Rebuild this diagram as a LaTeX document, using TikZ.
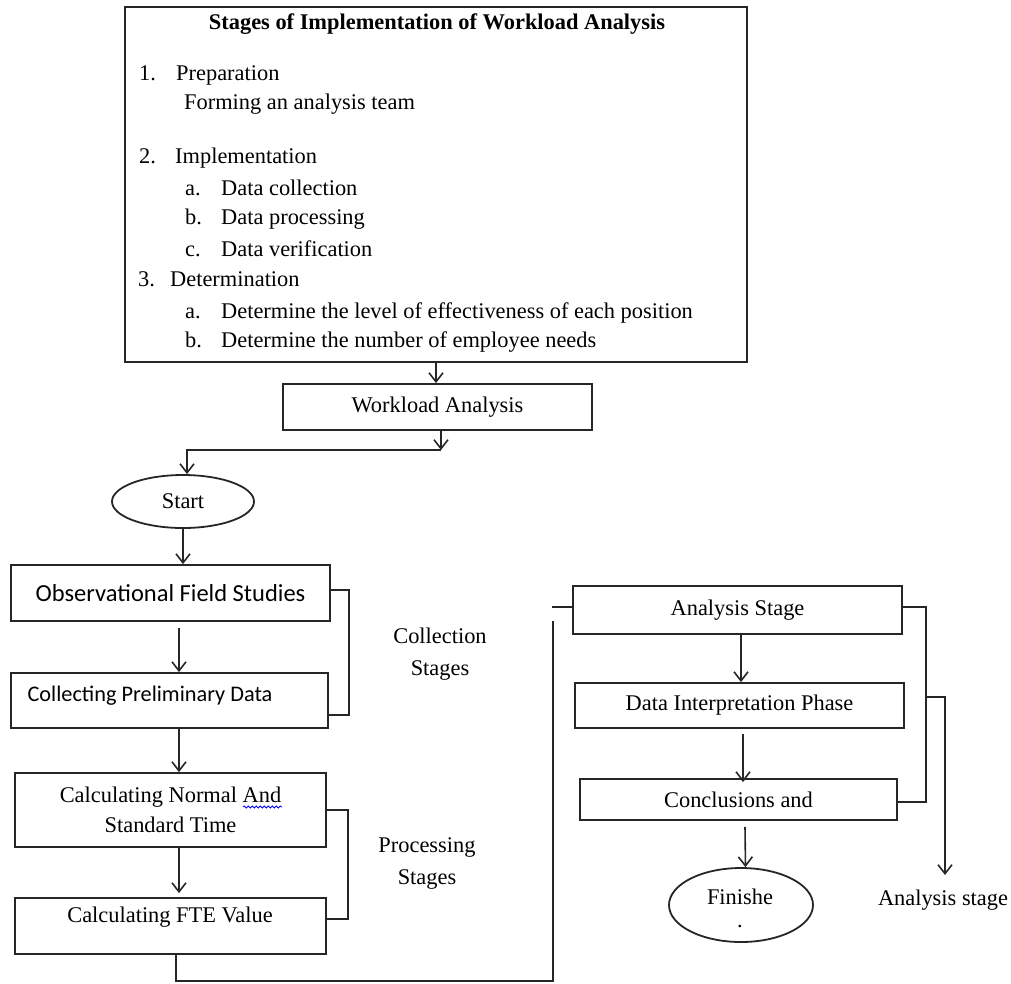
\documentclass[tikz,border=0pt]{standalone}
\usepackage{fontspec}
\setmainfont{Liberation Serif}
\newfontfamily\calibri{Carlito}
\usetikzlibrary{arrows.meta, shapes.geometric, decorations.pathmorphing}

\begin{document}
\begin{tikzpicture}[x=1pt, y=-1pt]
\tikzstyle{box}=[rectangle, draw=black!85, line width=1.8pt, inner sep=0pt, font=\fontsize{22.4}{30}\selectfont]
\tikzstyle{oval}=[ellipse, draw=black!85, line width=1.8pt, inner sep=0pt, font=\fontsize{22.4}{30}\selectfont]
\tikzstyle{txt}=[inner sep=0pt, anchor=base west, font=\fontsize{22.4}{30}\selectfont]
\tikzstyle{connect}=[-{Straight Barb[length=9pt, width=14pt, line width=1.6pt]}, line width=1.6pt, draw=black!85]
\tikzstyle{line}=[line width=1.6pt, draw=black!85]
\useasboundingbox (0,0) rectangle (1011,983);

    % stages box
    \node[box, minimum width=622, minimum height=355] (stages) at (436,184.5) { };
    \node[txt, anchor=base, font=\fontsize{22.4}{30}\selectfont\bfseries] (title) at (437,29) {Stages of Implementation of Workload Analysis};
    \node[txt] (n1)  at (139,80)  {1.};
    \node[txt] (n1t) at (176,80)  {Preparation};
    \node[txt] (n1s) at (184,109) {Forming an analysis team};
    \node[txt] (n2)  at (139,163) {2.};
    \node[txt] (n2t) at (175,163) {Implementation};
    \node[txt] (n2a) at (185,195) {a.};
    \node[txt] (n2at) at (221,195) {Data collection};
    \node[txt] (n2b) at (185,224) {b.};
    \node[txt] (n2bt) at (221,224) {Data processing};
    \node[txt] (n2c) at (185,256) {c.};
    \node[txt] (n2ct) at (221,256) {Data verification};
    \node[txt] (n3)  at (138,286) {3.};
    \node[txt] (n3t) at (170,286) {Determination};
    \node[txt] (n3a) at (185,318) {a.};
    \node[txt] (n3at) at (221,318) {Determine the level of effectiveness of each position};
    \node[txt] (n3b) at (185,347) {b.};
    \node[txt] (n3bt) at (221,347) {Determine the number of employee needs};

    % main flow
    \node[box, minimum width=309, minimum height=46] (wa) at (437.5,407) {Workload Analysis};
    \node[oval, minimum width=142, minimum height=53] (start) at (183,501.5) {Start};
    \node[box, minimum width=319, minimum height=56, font=\calibri\fontsize{24.5}{28}\selectfont] (obs) at (170.5,593) {Observational Field Studies};
    \node[box, minimum width=317, minimum height=55] (coll) at (169.5,700.5) { };
    \node[txt, anchor=center, font=\calibri\fontsize{22.3}{26}\selectfont] (collt) at (150,696) {Collecting Preliminary Data};
    \node[box, minimum width=311, minimum height=74, align=center] (calc) at (170.5,810) {Calculating Normal And\\Standard Time};
    \node[box, minimum width=311, minimum height=56] (fte) at (170.5,926) { };
    \node[txt, anchor=center] (ftet) at (170,917) {Calculating FTE Value};
    \node[txt, anchor=center, align=center, font=\fontsize{22.4}{32}\selectfont] (lblC) at (440,654) {Collection\\Stages};
    \node[txt, anchor=center, align=center, font=\fontsize{22.4}{32}\selectfont] (lblP) at (427,863) {Processing\\Stages};

    \node[box, minimum width=329, minimum height=48] (as) at (737.5,610) {Analysis Stage};
    \node[box, minimum width=329, minimum height=45] (di) at (739.5,705.5) {Data Interpretation Phase};
    \node[box, minimum width=317, minimum height=41] (conc) at (738.5,799.5) {Conclusions and};
    \node[oval, minimum width=144, minimum height=74] (fin) at (741,905) { };
    \node[txt, anchor=base] (fint) at (740,904) {Finishe};
    \node[txt, anchor=base] (fdot) at (740,927) {.};
    \node[txt, anchor=center] (lblA) at (943,900) {Analysis stage};

    \coordinate (split) at (441,450);
    \coordinate (gap) at (553,621);
    \coordinate (brR) at (925,697);
    \coordinate (outR) at (945,875);

    \draw[connect] (stages.south) -- (stages.south |- wa.north);
    \draw[connect] (wa.south -| split) -- (split);
    \draw[connect] (split) -| ([xshift=4]start.north);
    \draw[connect] (start.south) -- (start.south |- obs.north);
    \draw[connect] ([xshift=8.5, yshift=-6]obs.south) -- ([xshift=9.5]coll.north);
    \draw[connect] ([xshift=9.5]coll.south) -- ([xshift=8.5]calc.north);
    \draw[connect] ([xshift=8.5]calc.south) -- ([xshift=8.5, yshift=4]fte.north);
    \draw[line] ([yshift=3]obs.east) -- ++(18,0) |- ([yshift=-14.5]coll.east);
    \draw[line] (calc.east) -- ++(21,0) |- ([yshift=7]fte.east);
    \draw[line] ([xshift=5.5]fte.south) -- ++(0,26) -| (gap);
    \draw[line] ([yshift=3]as.west) -- ++(-20,0);
    \draw[connect] ([xshift=3.5]as.south) -- ([xshift=1.5]di.north);
    \draw[connect] ([xshift=3.5, yshift=-5]di.south) -- ([xshift=4.5, yshift=-4]conc.north);
    \draw[connect] ([xshift=6.5, yshift=-6]conc.south) -- ([xshift=4.5]fin.north);
    \draw[line] ([yshift=3]as.east) -- ++(23,0) |- ([yshift=-2.5]conc.east);
    \draw[connect] (brR) -| (outR);
    \draw[blue, line width=0.8pt, decorate, decoration={snake, amplitude=1.1pt, segment length=4pt}] (243,807) -- (282,807);
\end{tikzpicture}
\end{document}
